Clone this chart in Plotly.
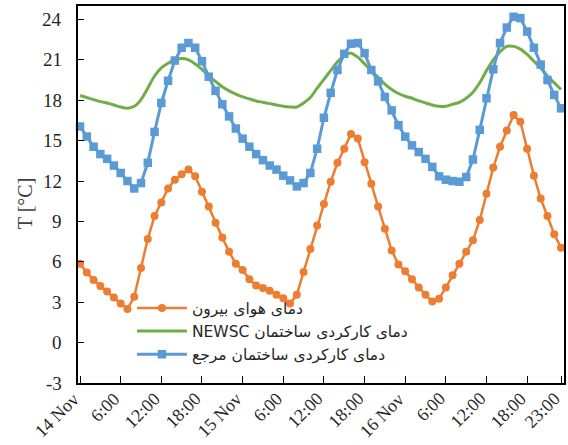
import plotly.graph_objects as go

hours = list(range(72))

outside_air = [5.85, 5.2, 4.65, 4.2, 3.8, 3.35, 2.9, 2.5, 3.4, 5.55, 7.7, 9.4, 10.4, 11.45, 12.1, 12.5, 12.85, 12.35, 11.2, 10.1, 8.9, 7.8, 6.75, 5.85,
               5.4, 4.7, 4.25, 4.05, 3.85, 3.55, 3.3, 2.9, 3.55, 5.25, 6.95, 8.7, 10.3, 11.95, 13.35, 14.4, 15.5, 15.15, 13.4, 11.8, 10.1, 8.45, 6.85, 5.8,
               5.3, 4.7, 4.1, 3.55, 3.05, 3.25, 4.1, 5.0, 5.85, 6.75, 7.6, 9.1, 11.05, 13.0, 14.55, 15.75, 16.9, 16.4, 14.4, 12.4, 10.7, 9.4, 8.05, 7.05]

newsc = [18.35, 18.2, 18.05, 17.9, 17.8, 17.65, 17.5, 17.4, 17.55, 18.05, 18.9, 19.8, 20.4, 20.75, 21.0, 21.1, 21.0, 20.7, 20.3, 19.8, 19.4, 19.0, 18.7, 18.45,
         18.25, 18.1, 17.95, 17.85, 17.75, 17.65, 17.55, 17.5, 17.5, 17.8, 18.2, 18.9, 19.55, 20.2, 20.85, 21.3, 21.5, 21.2, 20.7, 20.2, 19.7, 19.2, 18.8, 18.5,
         18.3, 18.15, 17.95, 17.8, 17.65, 17.55, 17.55, 17.7, 17.85, 18.15, 18.6, 19.3, 20.2, 21.0, 21.6, 22.0, 22.0, 21.8, 21.4, 20.9, 20.4, 19.8, 19.3, 18.8]

reference = [16.05, 15.3, 14.55, 14.0, 13.65, 13.15, 12.6, 12.0, 11.45, 11.85, 13.35, 15.65, 17.8, 19.45, 20.95, 21.9, 22.25, 21.9, 20.9, 19.75, 18.7, 17.7, 16.8, 15.9,
             15.15, 14.55, 14.0, 13.55, 13.15, 12.85, 12.4, 12.05, 11.6, 11.85, 12.6, 14.4, 16.7, 18.55, 20.25, 21.45, 22.2, 22.25, 21.5, 20.25, 19.4, 18.25, 17.25, 16.15,
             15.3, 14.65, 14.15, 13.65, 13.05, 12.35, 12.1, 12.0, 11.95, 12.3, 13.6, 15.8, 18.15, 20.3, 22.25, 23.4, 24.2, 24.1, 23.1, 21.9, 20.65, 19.5, 18.4, 17.4]

tick_vals = [0, 6, 12, 18, 24, 30, 36, 42, 48, 54, 60, 66, 71]
tick_text = ["14 Nov", "6:00", "12:00", "18:00", "15 Nov", "6:00", "12:00", "18:00",
             "16 Nov", "6:00", "12:00", "18:00", "23:00"]

y_tick_vals = [-3, 0, 3, 6, 9, 12, 15, 18, 21, 24]
y_tick_text = ["-3", "0", "3", "6", "9", "12", "15", "18", "21", "24"]

names = ["دمای هوای بیرون", "NEWSC دمای کارکردی ساختمان", "دمای کارکردی ساختمان مرجع"]
y_title = "T [°C]"

SERIF = "Liberation Serif"
TXT = "#262626"

fig = go.Figure()
fig.add_trace(go.Scatter(x=hours, y=outside_air, name=names[0], mode="lines+markers",
                         line=dict(color="#ED7D31", width=2.5),
                         marker=dict(symbol="circle", size=8, color="#ED7D31"),
                         cliponaxis=False))
fig.add_trace(go.Scatter(x=hours, y=newsc, name=names[1], mode="lines",
                         line=dict(color="#70AD47", width=3, shape="spline", smoothing=0.8),
                         cliponaxis=False))
fig.add_trace(go.Scatter(x=hours, y=reference, name=names[2], mode="lines+markers",
                         line=dict(color="#5B9BD5", width=3),
                         marker=dict(symbol="square", size=8.5, color="#5B9BD5"),
                         cliponaxis=False))

# rotated category labels placed at the x ticks
for v, t in zip(tick_vals, tick_text):
    fig.add_annotation(x=v, y=0, xref="x", yref="paper", text=t, showarrow=False,
                       textangle=-45, xanchor="right", yanchor="top", yshift=-3, xshift=6,
                       font=dict(family=SERIF, size=18, color=TXT))

# y tick labels placed at the y ticks
for v, t in zip(y_tick_vals, y_tick_text):
    fig.add_annotation(x=0, y=v, xref="paper", yref="y", text=t, showarrow=False,
                       xanchor="right", yanchor="middle", xshift=-14,
                       font=dict(family=SERIF, size=19, color=TXT))

# y axis title
fig.add_annotation(x=0, y=0.477, xref="paper", yref="paper", text=y_title, showarrow=False,
                   textangle=-90, xanchor="center", yanchor="middle", xshift=-53,
                   font=dict(family=SERIF, size=20, color="#404040"))

fig.update_layout(
    width=568, height=445,
    margin=dict(l=78, r=4, t=6, b=62, autoexpand=False),
    plot_bgcolor="white", paper_bgcolor="white",
    showlegend=True,
    legend=dict(x=0.111, y=0.243, xanchor="left", yanchor="top",
                bgcolor="rgba(0,0,0,0)", font=dict(family="DejaVu Sans", size=15.5, color=TXT),
                itemwidth=50, tracegroupgap=0),
    xaxis=dict(range=[-0.3, 71.44], tickvals=tick_vals, showticklabels=False, automargin=False,
               ticks="inside", ticklen=7, tickcolor="black", tickwidth=1,
               showline=True, linecolor="black", linewidth=1.5, mirror=True,
               showgrid=False, zeroline=False),
    yaxis=dict(range=[-3, 25], tickvals=y_tick_vals, showticklabels=False, automargin=False,
               ticks="inside", ticklen=6, tickcolor="black", tickwidth=1,
               showline=True, linecolor="black", linewidth=1.5, mirror=True,
               showgrid=False, zeroline=False),
)

fig.write_html("out.html", config={"displayModeBar": False},
               post_script="document.body.style.margin='0';document.body.style.padding='0';")
